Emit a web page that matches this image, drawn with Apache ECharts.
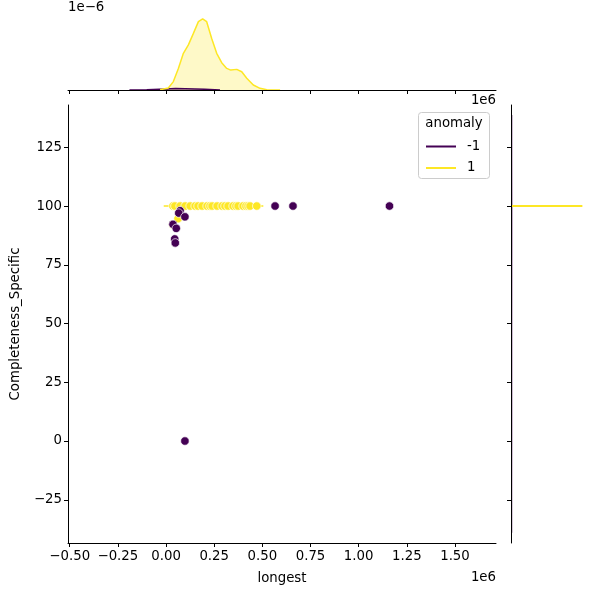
<!DOCTYPE html>
<html>
<head>
<meta charset="utf-8">
<title>longest vs Completeness_Specific</title>
<script src="https://cdn.jsdelivr.net/npm/echarts@6/dist/echarts.min.js"></script>
<style>
  html, body { margin: 0; padding: 0; background: #fff; }
  #chart { width: 600px; height: 600px; }
</style>
</head>
<body>
<div id="chart"></div>
<script>
// 坐标轴刻度
var xTicks = [-500000, -250000, 0, 250000, 500000, 750000, 1000000, 1250000, 1500000];
var yTicks = [-25, 0, 25, 50, 75, 100, 125];

// 散点: anomaly = 1
var normalX = [36000, 46000, 73000, 99000, 125000, 151000, 166000, 187000, 213000, 228000, 239000, 265000, 291000, 306000, 322000, 348000, 363000, 374000, 400000, 415000, 426000, 436000, 471000, 62000, 36000];
var normalY = [100, 100, 100, 100, 100, 100, 100, 100, 100, 100, 100, 100, 100, 100, 100, 100, 100, 100, 100, 100, 100, 100, 100, 94.6, 92];

// 散点: anomaly = -1
var outlierX = [73000, 66000, 98000, 36000, 53000, 45000, 48000, 98000, 566000, 659000, 1160000];
var outlierY = [98, 97, 95.4, 92.2, 90.5, 86, 84.3, 0, 100, 100, 100];

// y 基本不变, 联合图里只剩一条线
var normalLineX = [-12000, 505000];
var normalLineY = [100, 100];

// 上方边缘密度 (1e-6)
var topNormalX = [-31000, 12000, 38000, 64000, 90000, 116000, 142000, 168000, 190000, 211000, 237000, 263000, 289000, 315000, 336000, 367000, 393000, 419000, 453000, 488000, 523000, 592000];
var topNormalY = [0.014, 0.083, 0.35, 0.9, 1.53, 1.88, 2.36, 2.85, 2.97, 2.85, 2.15, 1.53, 1.14, 0.9, 0.83, 0.86, 0.76, 0.49, 0.21, 0.07, 0.014, 0];
var topOutlierX = [-190000, -100000, 0, 50000, 100000, 200000, 280000];
var topOutlierY = [0, 0.012, 0.04, 0.06, 0.05, 0.03, 0];

// 右侧边缘密度
var rightNormalX = [0, 0.83];
var rightNormalY = [100, 100];
var rightOutlierX = [0.012, 0.012, 0.014, 0.014, 0.012, 0.012, 0.01, 0.01];
var rightOutlierY = [138.7, 120, 100, 90, 50, 0, -20, -39];

var purple = "#440154";
var yellow = "#fde725";
var fontName = "DejaVu Sans";
var xMin = -509000;
var xMax = 1713000;
var yMin = -43.4;
var yMax = 143;

function pairs(xs, ys) {
  return xs.map(function (x, i) {
    return [x, ys[i]];
  });
}

function xLabel(v) {
  return (v / 1000000).toFixed(2).replace("-", "\u2212");
}

function yLabel(v) {
  return String(v).replace("-", "\u2212");
}

function kdeLine(name, color, xIndex, yIndex, data, fill, width, opacity) {
  var s = {
    name: name,
    type: "line",
    xAxisIndex: xIndex,
    yAxisIndex: yIndex,
    data: data,
    showSymbol: false,
    symbol: "none",
    itemStyle: { color: color },
    lineStyle: { color: color, width: width || 1.5, opacity: opacity || 1 }
  };
  if (fill) {
    s.areaStyle = { color: color, opacity: 0.25 };
  }
  return s;
}

function dots(name, color, data, z) {
  return {
    name: name,
    type: "scatter",
    xAxisIndex: 0,
    yAxisIndex: 0,
    data: data,
    symbolSize: 8.5,
    z: z,
    itemStyle: { color: color, borderColor: "#fff", borderWidth: 0.7, opacity: 1 }
  };
}

var axisLine = { show: true, onZero: false, lineStyle: { color: "#000", width: 1 } };

var myChart = echarts.init(document.getElementById("chart"));

var option = {
  animation: false,
  backgroundColor: "#fff",
  textStyle: { fontFamily: fontName },
  grid: [
    { left: 68, top: 105, width: 428, height: 438 },
    { left: 68, top: 2, width: 428, height: 88 },
    { left: 511, top: 105, width: 86, height: 438 }
  ],
  xAxis: [
    {
      gridIndex: 0, type: "value", min: xMin, max: xMax,
      name: "longest", nameLocation: "middle", nameGap: 29,
      nameTextStyle: { color: "#000", fontSize: 13.3, fontFamily: fontName },
      axisLine: axisLine,
      axisTick: { show: true, length: 4, lineStyle: { color: "#000" }, customValues: xTicks },
      axisLabel: { color: "#000", fontSize: 13.3, fontFamily: fontName, margin: 7, customValues: xTicks, formatter: xLabel },
      splitLine: { show: false }
    },
    {
      gridIndex: 1, type: "value", min: xMin, max: xMax, z: 10,
      axisLine: axisLine,
      axisTick: { show: true, length: 4, lineStyle: { color: "#000" }, customValues: xTicks },
      axisLabel: { show: false },
      splitLine: { show: false }
    },
    {
      gridIndex: 2, type: "value", min: 0, max: 1, show: false
    }
  ],
  yAxis: [
    {
      gridIndex: 0, type: "value", min: yMin, max: yMax,
      name: "Completeness_Specific", nameLocation: "middle", nameGap: 46,
      nameTextStyle: { color: "#000", fontSize: 13.3, fontFamily: fontName },
      axisLine: axisLine,
      axisTick: { show: true, length: 4, lineStyle: { color: "#000" }, customValues: yTicks },
      axisLabel: { color: "#000", fontSize: 13.3, fontFamily: fontName, margin: 6, customValues: yTicks, formatter: yLabel },
      splitLine: { show: false }
    },
    {
      gridIndex: 1, type: "value", min: 0, max: 3.67, show: false
    },
    {
      gridIndex: 2, type: "value", min: yMin, max: yMax, z: 10,
      axisLine: axisLine,
      axisTick: { show: true, length: 4, lineStyle: { color: "#000" }, customValues: yTicks },
      axisLabel: { show: false },
      splitLine: { show: false }
    }
  ],
  // 图例
  legend: {
    left: 426 - 5,
    top: 135,
    orient: "vertical",
    icon: "rect",
    itemWidth: 30,
    itemHeight: 2,
    itemGap: 8.5,
    padding: 5,
    data: ["-1", "1"],
    selectedMode: false,
    itemStyle: { borderWidth: 0 },
    textStyle: { color: "#000", fontSize: 13.3, fontFamily: fontName, padding: [0, 0, 0, 6] }
  },
  graphic: [
    {
      type: "rect", z: 1,
      shape: { x: 418.5, y: 112.5, width: 71, height: 66, r: 3 },
      style: { fill: "rgba(255,255,255,0.8)", stroke: "#ccc", lineWidth: 1 }
    },
    {
      type: "text", z: 2, x: 454, y: 124,
      style: { text: "anomaly", fill: "#000", font: "13.3px 'DejaVu Sans'", textAlign: "center", textVerticalAlign: "middle" }
    },
    {
      type: "text", x: 68, y: 8,
      style: { text: "1e\u22126", fill: "#000", font: "13.3px 'DejaVu Sans'", textAlign: "left", textVerticalAlign: "middle" }
    },
    {
      type: "text", x: 496, y: 101,
      style: { text: "1e6", fill: "#000", font: "13.3px 'DejaVu Sans'", textAlign: "right", textVerticalAlign: "middle" }
    },
    {
      type: "text", x: 496, y: 578,
      style: { text: "1e6", fill: "#000", font: "13.3px 'DejaVu Sans'", textAlign: "right", textVerticalAlign: "middle" }
    }
  ],
  series: [
    kdeLine("1", yellow, 0, 0, pairs(normalLineX, normalLineY), false),
    dots("1", yellow, pairs(normalX, normalY), 3),
    dots("-1", purple, pairs(outlierX, outlierY), 4),
    kdeLine("-1", purple, 1, 1, pairs(topOutlierX, topOutlierY), true),
    kdeLine("1", yellow, 1, 1, pairs(topNormalX, topNormalY), true),
    kdeLine("-1", purple, 2, 2, pairs(rightOutlierX, rightOutlierY), false, 1.5, 0.35),
    kdeLine("1", yellow, 2, 2, pairs(rightNormalX, rightNormalY), false, 2)
  ]
};

myChart.setOption(option);
window.addEventListener("resize", function () {
  myChart.resize();
});
</script>
</body>
</html>
